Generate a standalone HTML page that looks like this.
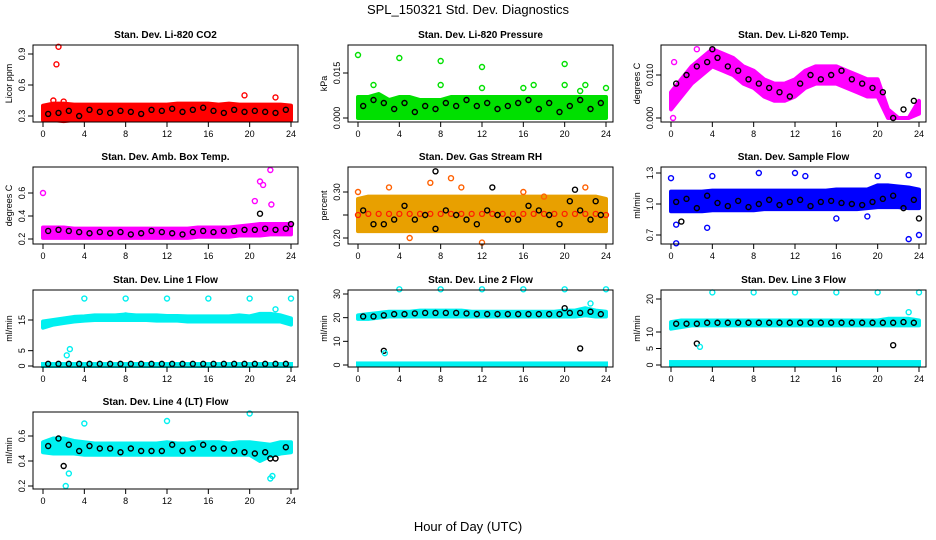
<!DOCTYPE html>
<html><head><meta charset="utf-8"><style>
body{margin:0;background:#fff;}
svg{display:block;font-family:"Liberation Sans",sans-serif;}
</style></head><body>
<svg id="chart" width="936" height="540" viewBox="0 0 936 540">
<text x="468" y="14" text-anchor="middle" font-size="13">SPL_150321  Std. Dev. Diagnostics</text>
<text x="468" y="531" text-anchor="middle" font-size="13">Hour of Day (UTC)</text>
</svg>
<script>
const xTicks=[0,4,8,12,16,20,24];
const titles=["Stan. Dev. Li-820 CO2","Stan. Dev. Li-820 Pressure","Stan. Dev. Li-820 Temp.","Stan. Dev. Amb. Box Temp.","Stan. Dev. Gas Stream RH","Stan. Dev. Sample Flow","Stan. Dev. Line 1 Flow","Stan. Dev. Line 2 Flow","Stan. Dev. Line 3 Flow","Stan. Dev. Line 4 (LT) Flow"];
const yUnits=["Licor ppm","kPa","degrees C","degrees C","percent","ml/min","ml/min","ml/min","ml/min","ml/min"];
const yTickVals=[[0.3,0.6,0.9],[0,0.015],[0,0.01],[0.2,0.4,0.6],[0.2,0.25,0.3],[0.7,1.0,1.3],[0,5,15],[0,10,20,30],[0,5,10,20],[0.2,0.4,0.6]];
const yTickLabels=[["0.3","0.6","0.9"],["0.000","0.015"],["0.000","0.010"],["0.2","0.4","0.6"],["0.20","","0.30"],["0.7","1.0","1.3"],["0","5","15"],["0","10","20","30"],["0","5","10","20"],["0.2","0.4","0.6"]];
const colors=["#ff0000","#00e000","#ff00ff","#ff00ff","#e8a000","#0000ff","#00f0f0","#00f0f0","#00f0f0","#00f0f0"];
const bandLo=[
[0.26,0.26,0.25,0.26,0.26,0.26,0.26,0.26,0.26,0.26,0.26,0.26,0.26,0.26,0.26,0.26,0.26,0.26,0.26,0.26,0.26,0.26,0.26,0.26,0.26],
[0,0,0,0,0,0,0,0,0,0,0,0,0,0,0,0,0,0,0,0,0,0,0,0,0],
[0.002,0.005,0.008,0.010,0.012,0.011,0.010,0.008,0.007,0.005,0.004,0.004,0.005,0.007,0.008,0.008,0.008,0.007,0.006,0.005,0.005,0,0,0,0.001],
[0.21,0.21,0.21,0.21,0.21,0.21,0.21,0.21,0.21,0.21,0.21,0.21,0.21,0.21,0.21,0.22,0.22,0.22,0.22,0.23,0.23,0.23,0.24,0.24,0.24],
[0.215,0.215,0.215,0.215,0.215,0.215,0.215,0.215,0.215,0.215,0.215,0.215,0.215,0.215,0.215,0.215,0.215,0.215,0.215,0.215,0.215,0.215,0.215,0.215,0.215],
[0.93,0.93,0.93,0.93,0.94,0.94,0.94,0.94,0.94,0.95,0.95,0.95,0.95,0.95,0.95,0.95,0.95,0.95,0.95,0.96,0.97,0.97,0.97,0.96,0.96],
[12.5,13.5,14,14.5,14.8,15,15,15,15,15,15,14.8,14.8,14.8,14.5,14.5,14.5,14.5,14.5,14.5,14.5,14.5,14.5,14.5,13.5],
[19.5,19.5,20,20.5,20.5,20.5,20.5,20.5,20.5,20.5,20.5,20.5,20.5,20.5,20.5,20.5,20.5,20.5,20.5,20.5,20.5,20.5,21,20.5,20.5],
[11,11.5,12,12,12,12,12,12,12,12,12,12,12,12,12,12,12,12,12,12,12,12,12,12,12],
[0.47,0.46,0.46,0.46,0.45,0.45,0.45,0.45,0.45,0.45,0.45,0.45,0.45,0.45,0.45,0.45,0.45,0.45,0.45,0.45,0.45,0.40,0.44,0.46,0.47]];
const bandHi=[
[0.40,0.42,0.42,0.41,0.41,0.41,0.41,0.41,0.41,0.41,0.41,0.41,0.41,0.42,0.42,0.42,0.42,0.41,0.42,0.41,0.41,0.41,0.41,0.41,0.40],
[0.007,0.007,0.008,0.006,0.007,0.007,0.006,0.006,0.006,0.007,0.007,0.007,0.007,0.007,0.007,0.007,0.007,0.007,0.007,0.007,0.007,0.007,0.007,0.007,0.007],
[0.006,0.009,0.012,0.014,0.016,0.015,0.014,0.012,0.011,0.009,0.008,0.008,0.009,0.011,0.012,0.012,0.012,0.011,0.010,0.009,0.009,0.002,0,0,0.004],
[0.30,0.30,0.30,0.29,0.29,0.29,0.29,0.29,0.29,0.29,0.29,0.29,0.29,0.29,0.29,0.30,0.30,0.30,0.30,0.31,0.32,0.33,0.33,0.33,0.33],
[0.285,0.29,0.29,0.29,0.29,0.29,0.29,0.29,0.29,0.29,0.29,0.29,0.29,0.29,0.29,0.29,0.29,0.29,0.29,0.29,0.29,0.29,0.29,0.29,0.285],
[1.12,1.12,1.12,1.12,1.13,1.13,1.13,1.13,1.13,1.13,1.13,1.13,1.13,1.13,1.13,1.13,1.14,1.14,1.14,1.14,1.18,1.18,1.17,1.16,1.14],
[14.5,15,15.5,16,16.2,16.5,16.5,16.5,16.8,16.5,16.5,16.5,16.3,16.3,16.2,16.2,16.2,16.2,16.2,16.5,16.2,17,17,16.5,15.5],
[21,21.5,22,22.5,22.5,22.5,23,23,23,23,23,22.5,22.5,22.5,22.5,22.5,22.5,22.5,22.5,22.5,23,23,24,23,22.5],
[13,13.5,13.5,13.5,13.5,13.5,13.5,13.5,13.5,13.5,13.5,13.5,13.5,13.5,13.5,13.5,13.5,13.5,13.5,13.5,13.5,14,14,14,13.5],
[0.55,0.58,0.58,0.56,0.55,0.54,0.54,0.54,0.54,0.54,0.54,0.54,0.55,0.54,0.54,0.55,0.55,0.55,0.54,0.55,0.55,0.54,0.53,0.55,0.55]];
const lowBandHi=[null,null,null,null,null,null,1.3,1.5,1.5,null];
const blackVals=[
[0.32,0.33,0.35,0.30,0.36,0.34,0.33,0.35,0.34,0.32,0.36,0.35,0.37,0.34,0.36,0.38,0.35,0.33,0.36,0.34,0.35,0.34,0.33,0.36],
[0.004,0.006,0.005,0.003,0.005,0.002,0.004,0.003,0.005,0.004,0.006,0.004,0.005,0.003,0.004,0.005,0.006,0.003,0.005,0.002,0.004,0.006,0.003,0.005],
[0.008,0.010,0.012,0.013,0.014,0.012,0.011,0.009,0.008,0.007,0.006,0.005,0.008,0.010,0.009,0.010,0.011,0.009,0.008,0.007,0.006,0.000,0.002,0.004],
[0.27,0.28,0.27,0.26,0.25,0.26,0.25,0.26,0.24,0.25,0.27,0.26,0.25,0.24,0.26,0.27,0.26,0.27,0.27,0.28,0.28,0.29,0.28,0.29],
[0.26,0.23,0.23,0.24,0.27,0.24,0.25,0.22,0.26,0.25,0.24,0.23,0.26,0.25,0.24,0.24,0.27,0.26,0.25,0.23,0.28,0.26,0.24,0.25],
[1.02,1.05,0.96,1.08,1.01,0.98,1.03,0.97,1.00,1.04,0.99,1.02,1.04,0.98,1.02,1.03,1.01,1.00,0.99,1.02,1.05,1.08,0.96,1.04],
[0.7,0.7,0.7,0.7,0.7,0.7,0.7,0.7,0.7,0.7,0.7,0.7,0.7,0.7,0.7,0.7,0.7,0.7,0.7,0.7,0.7,0.7,0.7,0.7],
[20.5,20.5,21,21.5,21.5,21.8,22,22,22,22,21.8,21.5,21.5,21.5,21.5,21.5,21.5,21.5,21.5,21.5,22,22,22.5,21.5],
[12.5,12.5,12.5,12.8,12.8,12.8,12.8,12.8,12.8,12.8,12.8,12.8,12.8,12.8,12.8,12.8,12.8,12.8,12.8,12.8,12.8,12.8,13,12.8],
[0.52,0.58,0.53,0.48,0.52,0.50,0.50,0.47,0.50,0.48,0.48,0.48,0.53,0.48,0.50,0.53,0.50,0.50,0.48,0.47,0.46,0.47,0.42,0.51]];
const outliers=[
[[1.5,0.97,0],[1.3,0.80,0],[1.0,0.45,0],[2.0,0.44,0],[19.5,0.50,0],[22.5,0.48,0]],
[[0,0.021,0],[4,0.020,0],[8,0.019,0],[12,0.017,0],[20,0.018,0],[20,0.011,0],[16,0.010,0],[8,0.011,0],[12,0.010,0],[1.5,0.011,0],[24,0.010,0],[22,0.011,0],[21.5,0.009,0],[17,0.011,0]],
[[0.2,0.000,0],[0.3,0.013,0],[2.5,0.016,0],[4,0.016,1]],
[[0,0.60,0],[20.5,0.53,0],[21,0.70,0],[21.3,0.67,0],[22,0.80,0],[22.1,0.50,0],[21,0.42,1],[24,0.33,1]],
[[7.5,0.345,1],[9,0.33,0],[7,0.32,0],[12,0.19,0],[13,0.31,1],[21,0.305,1],[22,0.31,0],[0,0.30,0],[3,0.31,0],[10,0.31,0],[5,0.20,0],[16,0.30,0],[18,0.29,0],[23,0.28,1]],
[[0,1.25,0],[0.5,0.62,0],[0.5,0.8,0],[4,1.27,0],[3.5,0.77,0],[8.5,1.3,0],[12,1.3,0],[13,1.27,0],[20,1.27,0],[23,1.28,0],[23,0.66,0],[24,0.70,0],[16,0.86,0],[19,0.88,0],[24,0.86,1],[1,0.83,1]],
[[4,22,0],[8,22,0],[12,22,0],[16,22,0],[20,22,0],[24,22,0],[22.5,18.5,0],[2.3,3.5,0],[2.6,5.5,0],[8,16.5,0]],
[[4,32,0],[8,32,0],[12,32,0],[16,32,0],[20,32,0],[24,32,0],[2.5,6,1],[2.6,5,0],[21.5,7,1],[22.5,26,0],[20,24,1]],
[[4,22,0],[8,22,0],[12,22,0],[16,22,0],[20,22,0],[24,22,0],[2.5,6.5,1],[2.8,5.5,0],[21.5,6,1],[23,16,0]],
[[4,0.70,0],[12,0.72,0],[20,0.78,0],[2.5,0.30,0],[2.2,0.20,0],[22,0.26,0],[22.2,0.28,0],[2,0.36,1],[22,0.42,1]]];

const svg=document.getElementById('chart');
const NS='http://www.w3.org/2000/svg';
const colX=[33,348,661];
const rowY=[45,167,290,412];
const boxW=265,boxH=77;
const cal=[[0.3,116,0.9,54],[0,118,0.015,73],[0,118,0.010,75],[0.2,239,0.6,193],[0.2,238,0.3,192],[0.7,235,1.3,173],[0,366,15,320],[0,365,30,294],[0,365,20,299],[0.2,486,0.6,436]];
function mk(tag,attrs,parent){const e=document.createElementNS(NS,tag);for(const k in attrs)e.setAttribute(k,attrs[k]);(parent||svg).appendChild(e);return e;}
for(let p=0;p<10;p++){
  const bx=colX[p%3],by=rowY[Math.floor(p/3)];
  const g=mk('g',{});
  
  
  const xs=h=>bx+10+h*(248/24);
  const c=cal[p];
  const ys=v=>c[1]+(v-c[0])*(c[3]-c[1])/(c[2]-c[0]);
  const col=colors[p];
  const t=mk('text',{x:bx+boxW/2,y:by-7,'text-anchor':'middle','font-size':'10','font-weight':'bold'},g);
  t.textContent=titles[p];
  
  
  let pts=[];
  for(let i=0;i<25;i++)pts.push(xs(i)+','+ys(bandHi[p][i]));
  for(let i=24;i>=0;i--)pts.push(xs(i)+','+ys(bandLo[p][i]));
  const band=mk('polygon',{points:pts.join(' '),fill:col,stroke:col,'stroke-width':'4','stroke-linejoin':'round'},g);
  
  
  if(lowBandHi[p]!==null){
    const lb=mk('rect',{x:xs(0)-2,y:ys(lowBandHi[p]),width:xs(24)-xs(0)+4,height:ys(0)-ys(lowBandHi[p])+2,fill:col},g);
    
    
  }
  if(p==4){
    for(let i=0;i<25;i++){const m=mk('circle',{cx:xs(i),cy:ys((bandLo[p][i]+bandHi[p][i])/2),r:2.5,fill:'none',stroke:'#ff2000','stroke-width':1.3},g);
      
      }
  }
  for(let i=0;i<24;i++){
    const m=mk('circle',{cx:xs(i+0.5),cy:ys(blackVals[p][i]),r:2.5,fill:'none',stroke:'#000','stroke-width':1.4},g);
    
    
  }
  for(const o of outliers[p]){
    const m=mk('circle',{cx:xs(o[0]),cy:ys(o[1]),r:2.5,fill:'none',stroke:o[2]?'#000':(p==4?'#ff6000':col),'stroke-width':1.4},g);
    
    
  }
  const box=mk('rect',{x:bx,y:by,width:boxW,height:boxH,fill:'none',stroke:'#000','stroke-width':1},g);
  
  
  for(const h of xTicks){
    mk('line',{x1:xs(h),x2:xs(h),y1:by+boxH,y2:by+boxH+5,stroke:'#000'},g);
    const tl=mk('text',{x:xs(h),y:by+boxH+15,'text-anchor':'middle','font-size':'9'},g);
    tl.textContent=h;
    
    
  }
  yTickVals[p].forEach((v,i)=>{
    const y=ys(v);
    mk('line',{x1:bx-5,x2:bx,y1:y,y2:y,stroke:'#000'},g);
    const tl=mk('text',{x:0,y:0,'text-anchor':'middle','font-size':'9',transform:`translate(${bx-8},${y}) rotate(-90)`},g);
    tl.textContent=yTickLabels[p][i];
    
    
  });
  const yt=mk('text',{x:0,y:0,'text-anchor':'middle','font-size':'9',transform:`translate(${bx-21},${by+boxH/2}) rotate(-90)`},g);
  yt.textContent=yUnits[p];
  
  
}
</script>
</body></html>
